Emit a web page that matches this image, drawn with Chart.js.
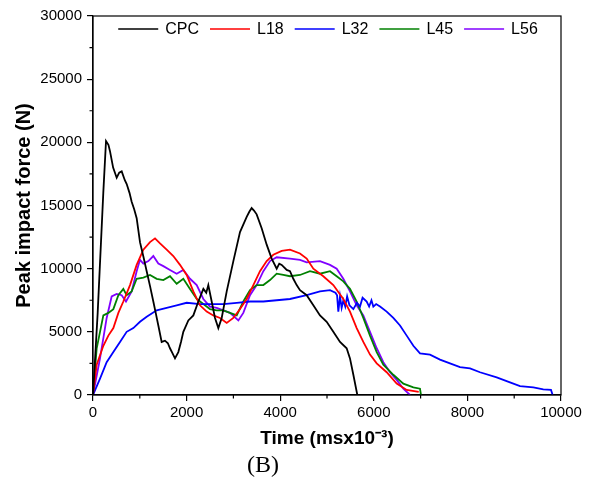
<!DOCTYPE html>
<html>
<head>
<meta charset="utf-8">
<script src="https://cdn.jsdelivr.net/npm/chart.js@4.4.1/dist/chart.umd.min.js"></script>
<style>
  html, body { margin: 0; padding: 0; background: #fff; }
  #wrap { position: relative; width: 594px; height: 488px; }
  #caption {
    position: absolute; left: 0; top: 451px; width: 526px; text-align: center;
    font-family: "Liberation Serif", "Times New Roman", serif; font-size: 24px; color: #000;
  }
</style>
</head>
<body>
<div id="wrap">
  <canvas id="c" width="594" height="488"></canvas>
  <div id="caption">(B)</div>
</div>
<script>
'use strict';

// ── data (time in ms x10^-3, force in N) ──
const xTicks = [0, 2000, 4000, 6000, 8000, 10000];
const yTicks = [0, 5000, 10000, 15000, 20000, 25000, 30000];

const cpcX = [0,100,220,278,330,363,430,506,560,613,680,720,780,826,880,933,1004,1080,1147,1220,1289,1340,1396,1467,1538,1600,1645,1700,1752,1823,1880,1930,2037,2144,2251,2358,2420,2464,2536,2607,2678,2750,2857,2999,3141,3284,3340,3390,3440,3497,3604,3711,3818,3925,3980,4032,4139,4209,4280,4352,4423,4566,4708,4850,4993,5135,5278,5420,5491,5563,5648];
const cpcY = [0,6500,16000,20100,19800,19300,18000,17200,17600,17700,17000,16700,16000,15300,14700,14000,12100,10900,9800,8600,7400,6500,5500,4200,4300,4100,3700,3300,2900,3400,4200,5000,5900,6300,7400,8400,8100,8700,7400,6100,5300,6100,8200,10600,12900,14100,14500,14800,14600,14300,13200,11900,10800,10000,10400,10300,9900,9800,9200,8700,8300,7900,7100,6300,5800,5000,4200,3700,2900,1600,0];

const l18X = [0,79,221,328,435,542,648,791,933,1076,1218,1325,1432,1574,1716,1859,2002,2144,2286,2429,2571,2714,2857,2999,3141,3284,3426,3568,3711,3853,4032,4209,4423,4566,4708,4921,5135,5349,5491,5634,5776,5919,6062,6275,6489,6703,6960];
const l18Y = [0,2400,3900,4700,5300,6500,7400,8700,10300,11500,12100,12400,12000,11500,11000,10300,9500,8200,7100,6600,6300,6100,5700,6100,6800,7600,8700,9800,10600,11100,11400,11500,11200,10800,10000,9400,8700,7600,6600,5300,4200,3200,2500,1800,900,400,250];

const l32X = [0,150,292,435,577,719,862,1004,1147,1361,1574,1788,2002,2286,2571,2785,3071,3355,3640,3925,4209,4566,4850,5064,5180,5215,5242,5278,5313,5349,5390,5430,5480,5563,5640,5705,5760,5848,5900,5950,5990,6050,6133,6275,6417,6560,6703,6845,6987,7201,7415,7628,7842,8056,8269,8626,8910,9124,9409,9622,9786,9822];
const l32Y = [0,1300,2600,3400,4200,5000,5300,5800,6200,6700,6900,7100,7300,7200,7200,7200,7300,7400,7400,7500,7600,7900,8200,8300,8100,7900,6600,7800,6900,7500,7000,7800,7100,6800,7300,7000,7700,7400,7000,7500,7000,7200,7000,6600,6100,5500,4700,3900,3300,3200,2800,2500,2200,2100,1800,1400,1000,700,600,450,400,0];

const l45X = [0,79,221,328,435,542,648,719,826,933,1076,1218,1361,1503,1645,1788,1930,2073,2216,2358,2500,2643,2785,2927,3071,3212,3355,3497,3640,3782,3925,4067,4209,4423,4637,4850,5064,5207,5349,5491,5634,5776,5919,6062,6204,6417,6631,6845,6987,7008];
const l45Y = [0,3700,6300,6500,6800,7900,8400,7900,8200,9200,9300,9500,9200,9100,9400,8800,9200,8400,7600,7200,6800,6700,6700,6500,6300,7400,8300,8700,8700,9100,9600,9500,9400,9500,9800,9600,9800,9400,9000,8400,7400,6100,4700,3400,2400,1600,900,600,500,0];

const l56X = [0,150,292,399,506,613,705,826,933,1004,1076,1183,1289,1396,1503,1645,1788,1930,2073,2216,2358,2500,2643,2785,2927,3106,3212,3355,3497,3640,3782,3925,4209,4423,4566,4850,5064,5207,5349,5491,5634,5776,5919,6062,6204,6346,6489,6631,6774];
const l56Y = [0,2900,6100,7800,8000,7900,7400,8200,9800,10700,10400,10600,11000,10400,10200,9900,9600,9900,9200,8700,7600,7000,6900,6700,6500,5900,6500,7900,8700,9800,10600,10900,10800,10700,10500,10600,10300,10000,9200,8200,7100,6300,5000,3700,2600,1800,1200,500,0];

const seriesNames  = ['CPC', 'L18', 'L32', 'L45', 'L56'];
const seriesColors = ['#000000', '#ff0000', '#0000ff', '#008000', '#8000ff'];
const seriesX = [cpcX, l18X, l32X, l45X, l56X];
const seriesY = [cpcY, l18Y, l32Y, l45Y, l56Y];

const xMinor = [1000, 3000, 5000, 7000, 9000];
const yMinor = [2500, 7500, 12500, 17500, 22500, 27500];

const FONT = '"Liberation Sans", Arial, sans-serif';

// frame on all four sides + short minor ticks outside the axes
const framePlugin = {
  id: 'frame',
  afterDraw(chart) {
    const { ctx, chartArea: a, scales } = chart;
    ctx.save();
    ctx.strokeStyle = '#000';
    ctx.lineWidth = 1.2;
    ctx.strokeRect(a.left, a.top, a.right - a.left, a.bottom - a.top);
    ctx.beginPath();
    xMinor.forEach(v => {
      const px = scales.x.getPixelForValue(v);
      ctx.moveTo(px, a.bottom); ctx.lineTo(px, a.bottom + 3.5);
    });
    yMinor.forEach(v => {
      const py = scales.y.getPixelForValue(v);
      ctx.moveTo(a.left, py); ctx.lineTo(a.left - 3.5, py);
    });
    ctx.stroke();
    ctx.restore();
  }
};

// one-row legend along the top inside the plot frame
const insideLegend = {
  id: 'insideLegend',
  afterDraw(chart) {
    const { ctx, chartArea: a } = chart;
    const lineLen = 40, gap = 7, pad = 11;
    ctx.save();
    ctx.font = '16px ' + FONT;
    ctx.textBaseline = 'middle';
    const items = chart.data.datasets.map(ds => ({ ds, w: ctx.measureText(ds.label).width }));
    let total = items.reduce((s, it) => s + lineLen + gap + it.w, 0) + pad * (items.length - 1);
    let x = (a.left + a.right) / 2 - total / 2 + 1;
    const y = a.top + 13;
    items.forEach(it => {
      ctx.strokeStyle = it.ds.borderColor;
      ctx.lineWidth = 1.5;
      ctx.beginPath();
      ctx.moveTo(x, y); ctx.lineTo(x + lineLen, y);
      ctx.stroke();
      ctx.fillStyle = '#000';
      ctx.fillText(it.ds.label, x + lineLen + gap, y + 1);
      x += lineLen + gap + it.w + pad;
    });
    ctx.restore();
  }
};

new Chart(document.getElementById('c'), {
  type: 'line',
  data: {
    datasets: seriesNames.map((name, i) => ({
      label: name,
      data: seriesX[i].map((x, j) => ({ x, y: seriesY[i][j] })),
      borderColor: seriesColors[i],
      backgroundColor: seriesColors[i],
      borderWidth: 1.8,
      pointRadius: 0,
      tension: 0,
      fill: false
    }))
  },
  options: {
    responsive: false,
    animation: false,
    layout: { padding: { left: 0, top: 16, right: 33, bottom: 33 } },
    plugins: {
      legend: { display: false },
      tooltip: { enabled: false }
    },
    scales: {
      x: {
        type: 'linear',
        min: 0, max: 10000,
        afterBuildTicks: s => { s.ticks = xTicks.map(v => ({ value: v })); },
        afterFit: s => { s.height = 60; },
        ticks: { color: '#000', font: { family: FONT, size: 15 }, padding: 3, maxRotation: 0, callback: v => String(v) },
        grid: { drawOnChartArea: false, drawTicks: true, tickLength: 6, color: '#000', lineWidth: 1.2 },
        border: { display: true, color: '#000', width: 1.2 },
        title: { display: true, text: 'Time (msx10\u207B\u00B3)', color: '#000', font: { family: FONT, size: 19, weight: 'bold' }, padding: { top: 0, bottom: 5 } }
      },
      y: {
        type: 'linear',
        min: 0, max: 30000,
        afterBuildTicks: s => { s.ticks = yTicks.map(v => ({ value: v })); },
        afterFit: s => { s.width = 93; },
        ticks: { color: '#000', font: { family: FONT, size: 15 }, padding: 5, callback: v => String(v) },
        grid: { drawOnChartArea: false, drawTicks: true, tickLength: 6, color: '#000', lineWidth: 1.2 },
        border: { display: true, color: '#000', width: 1.2 },
        title: { display: true, text: 'Peak impact force (N)', color: '#000', font: { family: FONT, size: 20, weight: 'bold' }, padding: { top: 12, bottom: 0 } }
      }
    }
  },
  plugins: [framePlugin, insideLegend]
});
</script>
</body>
</html>
